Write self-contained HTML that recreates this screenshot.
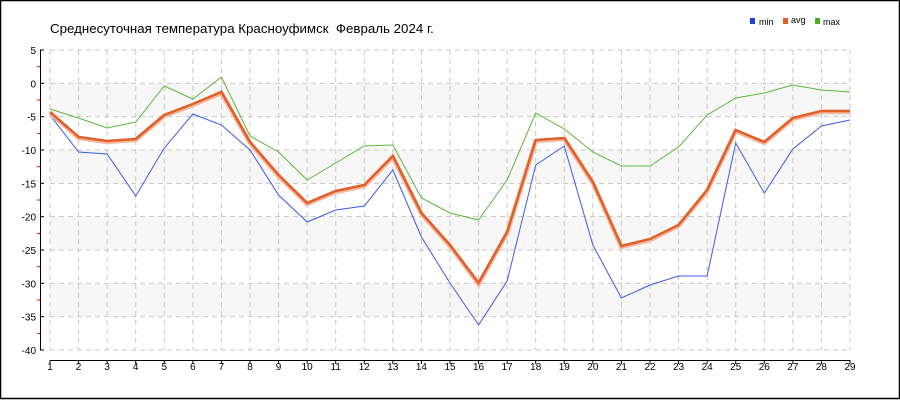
<!DOCTYPE html>
<html><head><meta charset="utf-8"><style>
html,body{margin:0;padding:0;background:#fff}
svg{display:block;font-family:"Liberation Sans",sans-serif}
</style></head><body>
<svg width="900" height="400" viewBox="0 0 900 400" xmlns="http://www.w3.org/2000/svg">
<rect x="0.5" y="0.5" width="899" height="398" fill="#fff" stroke="#000" stroke-width="1.5"/>
<text x="50" y="33" font-size="13.3" fill="#000" xml:space="preserve" style="white-space:pre">Среднесуточная температура Красноуфимск  Февраль 2024 г.</text>
<rect x="750" y="18" width="5" height="6" fill="#1f3fe0"/><text x="759" y="25" font-size="9">min</text>
<rect x="783" y="18" width="5" height="6" fill="#e0602a"/><text x="791" y="23" font-size="9">avg</text>
<rect x="815" y="18" width="5" height="6" fill="#4caf1e"/><text x="823" y="25" font-size="9">max</text>
<g fill="#f7f7f7">
<rect x="50" y="83.3" width="800" height="33.3"/>
<rect x="50" y="150" width="800" height="33.3"/>
<rect x="50" y="216.7" width="800" height="33.3"/>
<rect x="50" y="283.3" width="800" height="33.3"/>
</g>
<g id="grid" stroke="#c8c8c8" stroke-dasharray="5,4" stroke-width="1"></g>
<line x1="40.5" y1="50" x2="40.5" y2="350" stroke="#000"/>
<line x1="50" y1="360.5" x2="850" y2="360.5" stroke="#000"/>
<g id="ax" font-size="10" fill="#000"></g>
<polyline id="pmax" fill="none" stroke="#5cb83a" stroke-width="1"/>
<polyline id="pmin" fill="none" stroke="#3a5ce8" stroke-width="1"/>
<polyline id="pavg2" fill="none" stroke="#f4b9a0" stroke-width="4.5"/>
<polyline id="pavg" fill="none" stroke="#e0602a" stroke-width="2.5"/>
</svg>
<script>
var ns="http://www.w3.org/2000/svg";
function X(d){return 50+(d-1)*800/28}
var g=document.getElementById('grid'),ax=document.getElementById('ax');
function el(p,t,a){var e=document.createElementNS(ns,t);for(var k in a)e.setAttribute(k,a[k]);p.appendChild(e);return e}
for(var d=1;d<=29;d++){var x=X(d);el(g,'line',{x1:x,y1:50,x2:x,y2:350});
el(ax,'line',{x1:x,y1:360,x2:x,y2:364,stroke:'#000'});
var t=el(ax,'text',{x:x,y:370,'text-anchor':'middle'});t.textContent=d;}
for(var v=5;v>=-40;v-=5){var y=83.33-v*6.667;el(g,'line',{x1:50,y1:y,x2:850,y2:y});
el(ax,'line',{x1:40,y1:y,x2:44,y2:y,stroke:'#000'});
var t=el(ax,'text',{x:36,y:y+4,'text-anchor':'end'});t.textContent=v;
if(v>-40)el(ax,'line',{x1:37,y1:y+16.7,x2:40,y2:y+16.7,stroke:'#e00'});}
var mx=[109,118,128,122,86,99,77,136,152,180,163,146,145,198,213,220,180,113,129,152,166,166,147,115,98,93,85,90,92];
var av=[112,137,141,139,115,104,92,142,175,203,191,185,156,213,245,283,232,140,138,182,246,239,225,190,130,142,118,111,111];
var mn=[115,152,154,196,148,114,125,150,195,222,210,206,170,237,283,325,281,165,146,245,298,285,276,276,143,193,149,126,120];
function pts(a,o){return a.map(function(y,i){return X(i+1)+','+(y+(o||0))}).join(' ')}
document.getElementById('pmax').setAttribute('points',pts(mx));
document.getElementById('pmin').setAttribute('points',pts(mn));
document.getElementById('pavg2').setAttribute('points',pts(av,1));
document.getElementById('pavg').setAttribute('points',pts(av));
</script>
</body></html>
